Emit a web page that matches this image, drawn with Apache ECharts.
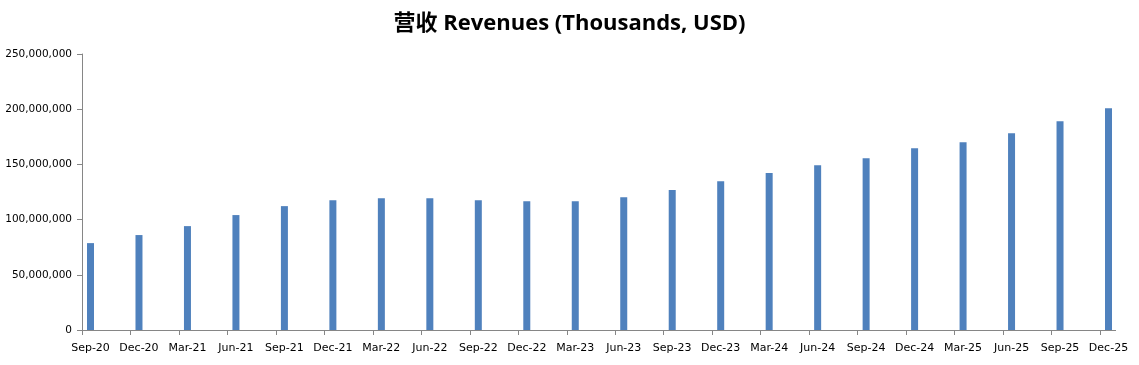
<!DOCTYPE html>
<html>
<head>
<meta charset="utf-8">
<script src="https://cdn.jsdelivr.net/npm/echarts@6/dist/echarts.min.js"></script>
<style>html,body{margin:0;padding:0;background:#fff;}#c{width:1139px;height:365px;}</style>
</head>
<body>
<div id="c"></div>
<script>
const categories = ['Sep-20','Dec-20','Mar-21','Jun-21','Sep-21','Dec-21','Mar-22','Jun-22','Sep-22','Dec-22','Mar-23','Jun-23','Sep-23','Dec-23','Mar-24','Jun-24','Sep-24','Dec-24','Mar-25','Jun-25','Sep-25','Dec-25'];
const revenues = [78700000, 86000000, 94100000, 104100000, 112200000, 117600000, 119400000, 119400000, 117600000, 116700000, 116700000, 120300000, 126700000, 134800000, 142100000, 149300000, 155600000, 164700000, 170100000, 178200000, 189100000, 200900000];
const titleText = '营收 Revenues (Thousands, USD)';
const yMin = 0, yMax = 250000000, yStep = 50000000;

const chart = echarts.init(document.getElementById('c'), null, {renderer: 'canvas'});
const axisColor = '#868686';
chart.setOption({
  animation: false,
  title: {
    text: titleText, left: 'center', top: 8,
    textStyle: {fontFamily: '"Open Sans", "Noto Sans CJK SC", sans-serif', fontWeight: 'bold', fontSize: 22, color: '#000'}
  },
  grid: {left: 82, right: 39, top: 54, bottom: 35, containLabel: false},
  xAxis: {
    type: 'category', data: categories, boundaryGap: false,
    axisLine: {lineStyle: {color: axisColor}},
    axisTick: {show: true, length: 5, inside: false, lineStyle: {color: axisColor}, alignWithLabel: true},
    axisLabel: {interval: 0, color: '#000', fontFamily: '"DejaVu Sans", sans-serif', fontSize: 11, margin: 13, padding: [0, 0, 0, 17]},
    splitLine: {show: false}
  },
  yAxis: {
    type: 'value', min: yMin, max: yMax, interval: yStep,
    axisLine: {show: true, lineStyle: {color: axisColor}},
    axisTick: {show: true, length: 5, lineStyle: {color: axisColor}},
    axisLabel: {color: '#000', fontFamily: '"DejaVu Sans", sans-serif', fontSize: 10.5, margin: 10,
      formatter: v => v.toLocaleString('en-US')},
    splitLine: {show: false}
  },
  graphic: [{type: 'line', shape: {x1: 1100, y1: 330.5, x2: 1116, y2: 330.5}, style: {stroke: axisColor, lineWidth: 1}}],
  series: [
    {type: 'bar', name: 'spacer', data: categories.map(() => '-'), barWidth: 7, barGap: '143%', clip: false},
    {type: 'bar', name: 'Revenues', data: revenues, barWidth: 7, barGap: '143%', clip: false,
      itemStyle: {color: '#4F81BD'}}
  ]
});
</script>
</body>
</html>
